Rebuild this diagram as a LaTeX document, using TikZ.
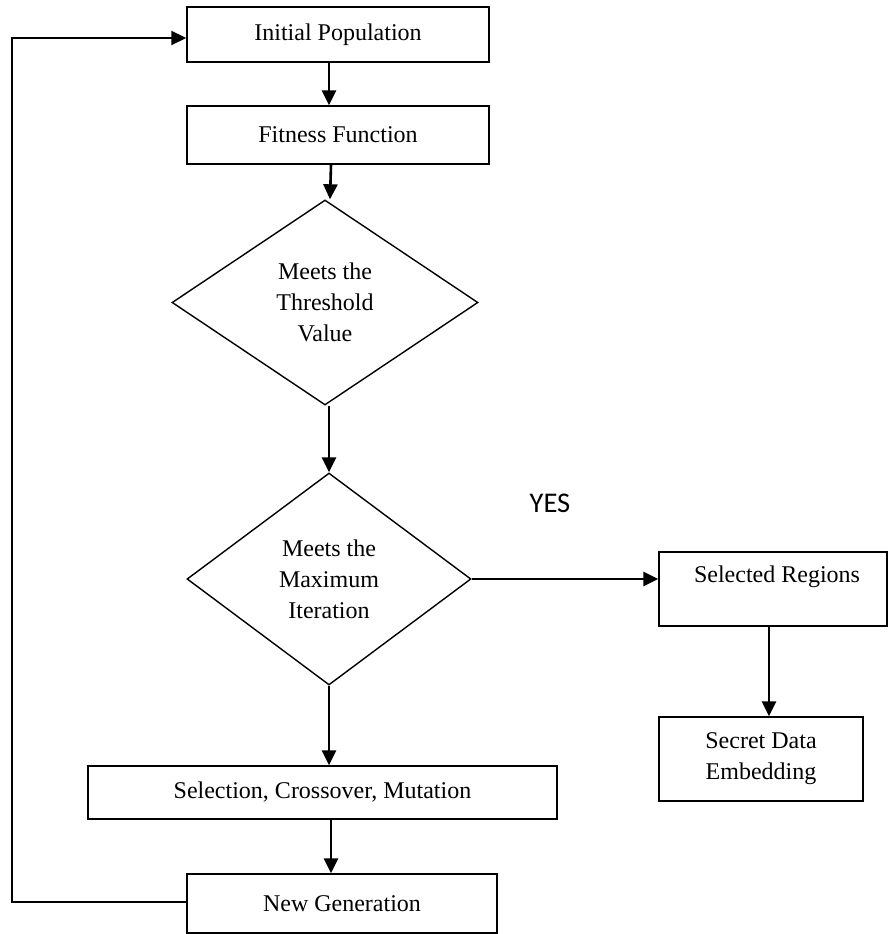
\documentclass[tikz,border=0pt]{standalone}
\usepackage{fontspec}
\setmainfont{Liberation Serif}
\newfontfamily\yesfont{Carlito}
\usetikzlibrary{shapes.geometric,arrows.meta,calc}
\begin{document}
\begin{tikzpicture}[x=1pt,y=-1pt,
  every node/.style={font=\fontsize{24}{31}\selectfont},
  box/.style={draw,rectangle,line width=1.4pt,inner sep=0pt},
  dia/.style={draw,diamond,line width=1.4pt,inner sep=0pt,align=center},
  arr/.style={line width=2.6pt,-{Triangle[length=15pt,width=14pt]}},
  loopline/.style={line width=2pt,-{Triangle[length=15pt,width=14pt]}}]
\useasboundingbox (0,0) rectangle (888,934);
\node[box,minimum width=302,minimum height=55] (ip) at (338,34.5) {Initial Population};
\node[box,minimum width=302,minimum height=58] (ff) at (338,135) {Fitness Function};
\node[dia,minimum width=306,minimum height=205] (d1) at (325,302.5) {Meets the\\Threshold\\Value};
\node[dia,minimum width=284,minimum height=212] (d2) at (329,579) {Meets the\\Maximum\\Iteration};
\node[box,minimum width=228,minimum height=74] (sr) at (773,589) {};
\node (srt) at (777,577) {Selected Regions};
\node[box,minimum width=204,minimum height=84,align=center] (sde) at (761,759) {Secret Data\\Embedding};
\node[box,minimum width=469,minimum height=53] (sel) at (322.5,792.5) {Selection, Crossover, Mutation};
\node[box,minimum width=310,minimum height=59] (ng) at (342,903.5) {New Generation};
\node[font=\yesfont\fontsize{28.5}{30}\selectfont] (yes) at (550,503) {YES};
\coordinate (lp) at (12,500);
\draw[arr] ([xshift=-9pt]ip.south) -- ([xshift=-9pt]ff.north);
\draw[arr] ([xshift=-7pt]ff.south) -- ([xshift=5pt]d1.north);
\draw[arr] ([xshift=4pt]d1.south) -- (d2.north);
\draw[arr] (d2.east) -- (d2.east -| sr.west);
\draw[arr] ([xshift=-4pt]sr.south) -- ([xshift=8pt]sde.north);
\draw[arr] (d2.south) -- (d2.south |- sel.north);
\draw[arr] ([xshift=8.5pt]sel.south) -- ([xshift=-11pt]ng.north);
\draw[loopline] ([yshift=1.5pt]ng.west) -| (lp) |- ([yshift=-3.5pt]ip.west);
\end{tikzpicture}
\end{document}
